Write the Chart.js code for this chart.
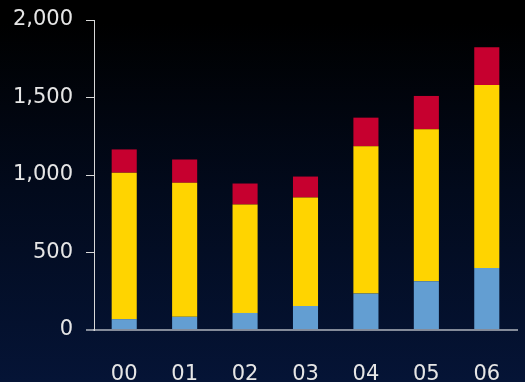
<!DOCTYPE html>
<html>
<head>
<meta charset="utf-8">
<script src="https://cdn.jsdelivr.net/npm/chart.js@4"></script>
<style>
    html, body {
        margin: 0;
        padding: 0;
        width: 525px;
        height: 382px;
        overflow: hidden;
        background: linear-gradient(to bottom, #000000 0%, #000000 6%, #020a1c 50%, #051436 100%);
    }
    #wrap {
        position: relative;
        width: 525px;
        height: 382px;
    }
</style>
</head>
<body>
<div id="wrap"><canvas id="chart"></canvas></div>
<script>
// ---------------- DATA ----------------
const years = ["00", "01", "02", "03", "04", "05", "06"];
const baseValues = [70, 85, 110, 155, 235, 315, 400];
const midValues = [945, 865, 700, 700, 950, 980, 1180];
const topValues = [150, 150, 135, 135, 185, 215, 245];
const yTicks = [0, 500, 1000, 1500, 2000];

const textColor = "#e6e6e6";
const axisGray = "rgba(175,180,190,0.75)";
const font = { family: "DejaVu Sans", size: 21 };

function makeSet(label, values, color) {
    return {
        label: label,
        data: values,
        backgroundColor: color,
        borderWidth: 0,
        barPercentage: 0.415,
        categoryPercentage: 1.0
    };
}

// ---------------- CHART ----------------
new Chart(document.getElementById("chart"), {
    type: "bar",
    data: {
        labels: years,
        datasets: [
            makeSet("base", baseValues, "#639ed2"),
            makeSet("mid", midValues, "#ffd400"),
            makeSet("top", topValues, "#c6002f")
        ]
    },
    options: {
        responsive: true,
        maintainAspectRatio: false,
        animation: false,
        layout: { padding: { top: 20, right: 8, left: 0, bottom: 0 } },
        plugins: {
            legend: { display: false },
            tooltip: { enabled: false }
        },
        scales: {
            x: {
                stacked: true,
                z: 1,
                grid: { display: false },
                border: { display: true, color: axisGray, width: 2 },
                ticks: { color: textColor, font: font, padding: 24, maxRotation: 0 },
                afterFit: s => { s.height = 52; }
            },
            y: {
                stacked: true,
                min: 0,
                max: 2000,
                afterBuildTicks: s => { s.ticks = yTicks.map(v => ({ value: v })); },
                grid: {
                    drawOnChartArea: false,
                    tickLength: 8,
                    color: ctx => ctx.index === 0 ? axisGray : "#d8d8d8",
                    lineWidth: ctx => ctx.index === 0 ? 2 : 1
                },
                border: { display: true, color: "#d8d8d8", width: 1 },
                ticks: {
                    color: textColor,
                    font: font,
                    padding: 13,
                    callback: v => v.toLocaleString("en-US")
                },
                afterFit: s => {
                    s.width = 94;
                    s.paddingTop = 0;
                    s.paddingBottom = 0;
                }
            }
        }
    }
});
</script>
</body>
</html>
